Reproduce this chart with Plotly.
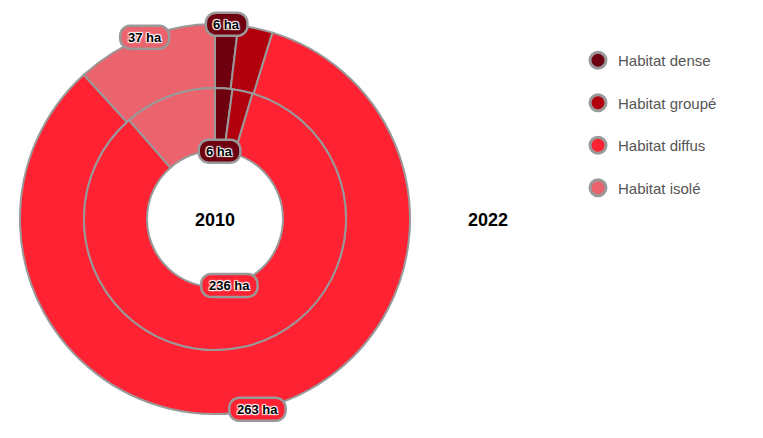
import math
import plotly.graph_objects as go

# ---- data ----
categories = ["Habitat dense", "Habitat groupé", "Habitat diffus", "Habitat isolé"]
colors = ["#6e0010", "#b3000f", "#ff2233", "#ea636d"]
values_2010 = [6, 7, 236, 32]
values_2022 = [6, 9, 263, 37]
show_label_2010 = [True, False, True, False]
show_label_2022 = [True, False, True, True]
years = ["2010", "2022"]

W, H = 763, 438
CX, CY = 215, 219
R_OUT, R_MID, R_IN = 195, 131, 68
FONT = "Liberation Sans, Arial, Helvetica, sans-serif"
BORDER = "#999999"


def dom(r):
    return dict(x=[(CX - r) / W, (CX + r) / W], y=[1 - (CY + r) / H, 1 - (CY - r) / H])


fig = go.Figure()

fig.add_trace(go.Pie(
    labels=categories, values=values_2022, sort=False, direction="clockwise", rotation=0,
    hole=R_MID / R_OUT, domain=dom(R_OUT), textinfo="none", showlegend=False,
    marker=dict(colors=colors, line=dict(color=BORDER, width=2)), name="2022"))
fig.add_trace(go.Pie(
    labels=categories, values=values_2010, sort=False, direction="clockwise", rotation=0,
    hole=R_IN / R_MID, domain=dom(R_MID), textinfo="none", showlegend=False,
    marker=dict(colors=colors, line=dict(color=BORDER, width=2)), name="2010"))

# legend entries (circles)
for i, (cat, col) in enumerate(zip(categories, colors)):
    fig.add_trace(go.Scatter(
        x=[None], y=[None], mode="markers", name=cat, legendgroup=f"g{i}",
        marker=dict(symbol="circle", size=16, color=col, line=dict(color=BORDER, width=3))))

annotations = []
shapes = []


def rounded_rect(px, py, w, h, r):
    x0, x1 = px - w / 2, px + w / 2
    y0, y1 = py - h / 2, py + h / 2
    pts = []
    steps = 6
    corners = [(x1 - r, y0 + r, -90), (x1 - r, y1 - r, 0), (x0 + r, y1 - r, 90), (x0 + r, y0 + r, 180)]
    for cx, cy, a0 in corners:
        for k in range(steps + 1):
            a = math.radians(a0 + 90 * k / steps)
            pts.append((cx + r * math.cos(a), cy + r * math.sin(a)))
    path = "M " + " L ".join(f"{x / W:.5f},{1 - y / H:.5f}" for x, y in pts) + " Z"
    return path


def add_labels(values, shows, radius):
    total = sum(values)
    cum = 0
    for v, show, col in zip(values, shows, colors):
        mid = (cum + v / 2) / total * 2 * math.pi
        cum += v
        if not show:
            continue
        px = CX + radius * math.sin(mid)
        py = CY - radius * math.cos(mid)
        txt = f"{v:.0f} ha"
        bw = len(txt) * 7.4 + 12
        shapes.append(dict(type="path", xref="paper", yref="paper", layer="above",
                           path=rounded_rect(px, py, bw, 23, 10),
                           fillcolor=col, line=dict(color=BORDER, width=2.5)))
        annotations.append(dict(
            x=px / W, y=1 - py / H, xref="paper", yref="paper", showarrow=False,
            xanchor="center", yanchor="middle",
            text=f"<b>{txt}</b>",
            font=dict(family=FONT, size=13, color="black",
                      shadow="1px 1px 1px white, -1px -1px 1px white, 1px -1px 1px white, -1px 1px 1px white")))


add_labels(values_2022, show_label_2022, R_OUT)
add_labels(values_2010, show_label_2010, R_IN)

annotations.append(dict(x=CX / W, y=1 - 220 / H, xref="paper", yref="paper", showarrow=False,
                        xanchor="center", yanchor="middle",
                        text=f"<b>{years[0]}</b>", font=dict(family=FONT, size=18, color="black")))
annotations.append(dict(x=488 / W, y=1 - 220 / H, xref="paper", yref="paper", showarrow=False,
                        xanchor="center", yanchor="middle",
                        text=f"<b>{years[1]}</b>", font=dict(family=FONT, size=18, color="black")))

fig.update_layout(
    width=W, height=H, margin=dict(l=0, r=0, t=0, b=0),
    paper_bgcolor="white", plot_bgcolor="white",
    xaxis=dict(visible=False), yaxis=dict(visible=False),
    annotations=annotations, shapes=shapes,
    legend=dict(x=578 / W, y=1 - 44 / H, xanchor="left", yanchor="top",
                font=dict(family=FONT, size=15, color="#555555"),
                tracegroupgap=20, itemsizing="trace", bgcolor="rgba(0,0,0,0)"),
    hovermode=False,
)

fig.write_html("out.html", config={"displayModeBar": False},
               post_script="document.body.style.margin='0px';")
